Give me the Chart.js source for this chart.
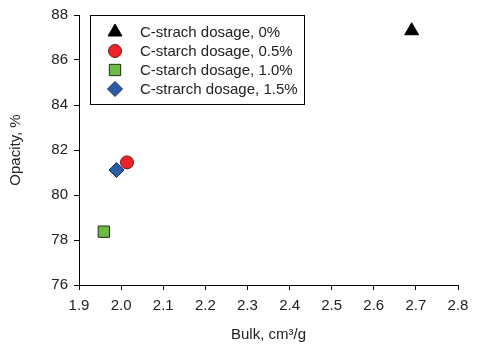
<!DOCTYPE html>
<html>
<head>
<meta charset="utf-8">
<script src="https://cdn.jsdelivr.net/npm/chart.js@4/dist/chart.umd.min.js"></script>
<style>
  html, body { margin: 0; padding: 0; background: #fff; }
  #wrap { width: 477px; height: 351px; }
</style>
</head>
<body>
<div id="wrap"><canvas id="opacityChart" width="477" height="351"></canvas></div>
<script>
  // data
  const seriesLabels = [
    'C-strach dosage, 0%',
    'C-starch dosage, 0.5%',
    'C-starch dosage, 1.0%',
    'C-strarch dosage, 1.5%'
  ];
  const bulkValues = [2.69, 2.014, 1.959, 1.989];
  const opacityValues = [87.3, 81.45, 78.37, 81.11];
  const xTicks = [1.9, 2.0, 2.1, 2.2, 2.3, 2.4, 2.5, 2.6, 2.7, 2.8];
  const yTicks = [76, 78, 80, 82, 84, 86, 88];

  // marker styles
  const markers = [
    { style: 'triangle', radius: 8, fill: '#000000', border: '#000000' },
    { style: 'circle', radius: 6.5, fill: '#ee2229', border: '#6e1515' },
    { style: 'rect', radius: 8, fill: '#6cbb45', border: '#1f2f14' },
    { style: 'rectRot', radius: 7.5, fill: '#2b5ca9', border: '#1b2c52' }
  ];

  const datasets = seriesLabels.map((label, i) => ({
    label: label,
    data: [{ x: bulkValues[i], y: opacityValues[i] }],
    pointStyle: markers[i].style,
    pointRadius: markers[i].radius,
    pointHoverRadius: markers[i].radius,
    backgroundColor: markers[i].fill,
    borderColor: markers[i].border,
    borderWidth: 1
  }));

  const fontFamily = '"Liberation Sans", Arial, sans-serif';

  // legend box drawn inside the plot, top left
  const boxLegend = {
    id: 'boxLegend',
    afterDatasetsDraw(chart) {
      const ctx = chart.ctx;
      const area = chart.chartArea;
      const left = area.left + 11, top = area.top, w = 214, h = 89;
      ctx.save();
      ctx.fillStyle = '#fff';
      ctx.fillRect(left, top, w, h);
      ctx.strokeStyle = '#000';
      ctx.lineWidth = 1;
      ctx.strokeRect(left + 0.5, top + 0.5, w, h);
      ctx.font = '15px ' + fontFamily;
      ctx.textBaseline = 'middle';
      seriesLabels.forEach((label, i) => {
        const y = top + 17 + i * 19;
        const m = markers[i];
        ctx.fillStyle = m.fill;
        ctx.strokeStyle = m.border;
        ctx.lineWidth = 1;
        Chart.helpers.drawPoint(ctx, { pointStyle: m.style, radius: m.radius, rotation: 0, borderWidth: 1 }, left + 25, y);
        ctx.fillStyle = '#222';
        ctx.fillText(label, left + 50, y + 1);
      });
      ctx.restore();
    }
  };

  const textFont = { family: fontFamily, size: 15 };

  const ctx = document.getElementById('opacityChart').getContext('2d');
  const opacityChart = new Chart(ctx, {
    type: 'scatter',
    data: { datasets: datasets },
    options: {
      responsive: false,
      animation: false,
      layout: { padding: { left: 0, top: 15, right: 19, bottom: 0 } },
      plugins: {
        legend: { display: false },
        tooltip: { enabled: false }
      },
      scales: {
        x: {
          type: 'linear',
          min: xTicks[0],
          max: xTicks[xTicks.length - 1],
          afterBuildTicks: function(scale) {
            scale.ticks = xTicks.map(v => ({ value: v }));
          },
          afterFit: function(scale) { scale.height = 66; },
          ticks: {
            color: '#222',
            font: textFont,
            padding: 7,
            callback: v => Number(v).toFixed(1)
          },
          grid: { drawOnChartArea: false, drawTicks: true, tickLength: 5, color: '#000' },
          border: { display: true, color: '#000', width: 1 },
          title: {
            display: true,
            text: 'Bulk, cm³/g',
            color: '#222',
            font: textFont,
            padding: { top: 0, bottom: 7 }
          }
        },
        y: {
          type: 'linear',
          min: yTicks[0],
          max: yTicks[yTicks.length - 1],
          afterBuildTicks: function(scale) {
            scale.ticks = yTicks.map(v => ({ value: v }));
          },
          afterFit: function(scale) { scale.width = 79; },
          ticks: {
            color: '#222',
            font: textFont,
            padding: 6
          },
          grid: { drawOnChartArea: false, drawTicks: true, tickLength: 5, color: '#000' },
          border: { display: true, color: '#000', width: 1 },
          title: {
            display: true,
            text: 'Opacity, %',
            color: '#222',
            font: textFont,
            padding: { top: 7, bottom: 0 }
          }
        }
      }
    },
    plugins: [boxLegend]
  });
</script>
</body>
</html>
